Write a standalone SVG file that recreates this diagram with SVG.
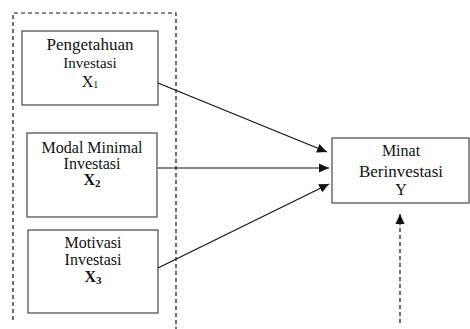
<svg xmlns="http://www.w3.org/2000/svg" width="470" height="329" viewBox="0 0 470 329">
<style>
.box{fill:#fff;stroke:#222;stroke-width:1}
.t{font-family:"Liberation Serif",serif;font-size:16px;fill:#111;text-anchor:middle}
.b{font-weight:bold}
.ln{stroke:#111;stroke-width:1.2;fill:none}
.dash{stroke:#111;stroke-width:1.2;fill:none;stroke-dasharray:4,3}
</style>
<defs>
<marker id="ah" viewBox="0 0 10 10" refX="10" refY="5" markerWidth="10" markerHeight="10" markerUnits="userSpaceOnUse" orient="auto">
<path d="M0,0.5 L10,5 L0,9.5 z" fill="#111"/>
</marker>
</defs>
<path class="dash" d="M13,320 V13 H176 V329"/>
<g id="x1">
<rect class="box" x="22" y="31" width="136" height="74"/>
<text class="t" x="90" y="50" style="font-size:17px">Pengetahuan</text>
<text class="t" x="90" y="68" style="font-size:15px">Investasi</text>
<text class="t" x="90" y="87">X<tspan font-size="10" dy="1">1</tspan></text>
</g>
<g id="x2">
<rect class="box" x="27" y="133" width="130" height="84"/>
<text class="t" x="92" y="153">Modal Minimal</text>
<text class="t" x="92" y="169">Investasi</text>
<text class="t b" x="92" y="185">X<tspan font-size="11" dy="2">2</tspan></text>
</g>
<g id="x3">
<rect class="box" x="28" y="230" width="130" height="83"/>
<text class="t" x="93" y="248">Motivasi</text>
<text class="t" x="93" y="265">Investasi</text>
<text class="t b" x="93" y="282">X<tspan font-size="11" dy="2">3</tspan></text>
</g>
<g id="y">
<rect class="box" x="332" y="138" width="137" height="65"/>
<text class="t" x="401" y="156">Minat</text>
<text class="t" x="401" y="177" style="font-size:17px">Berinvestasi</text>
<text class="t" x="401" y="195">Y</text>
</g>
<g id="connectors">
<line class="ln" x1="158" y1="83" x2="327" y2="152" marker-end="url(#ah)"/>
<line class="ln" x1="158" y1="168" x2="329" y2="168" marker-end="url(#ah)"/>
<line class="ln" x1="158" y1="268" x2="329" y2="184" marker-end="url(#ah)"/>
<line class="dash" x1="400" y1="323" x2="400" y2="214" marker-end="url(#ah)"/>
</g>
</svg>
